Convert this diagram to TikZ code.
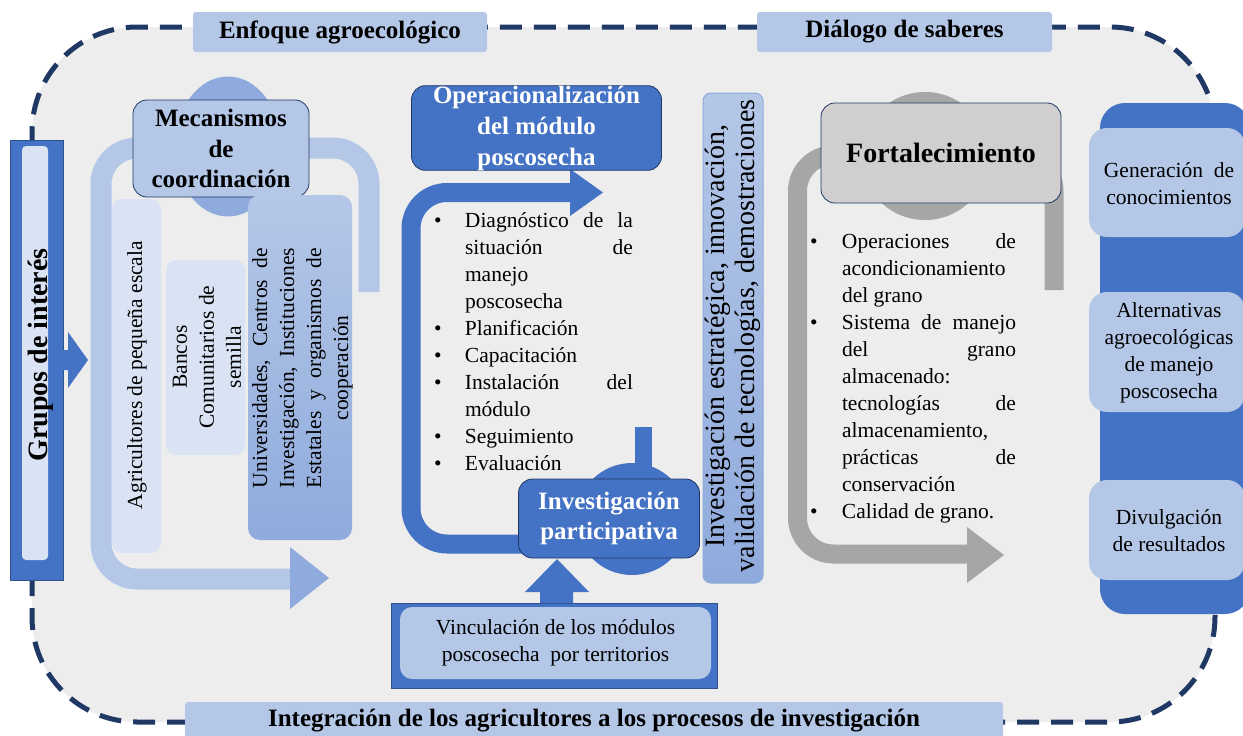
\documentclass[tikz,border=0pt]{standalone}
\usepackage{fontspec}
\setmainfont{Liberation Serif}
\definecolor{bgc}{HTML}{EDEDED}
\definecolor{navy}{HTML}{1F3864}
\definecolor{blu}{HTML}{4472C4}
\definecolor{blud}{HTML}{2F528F}
\definecolor{lb}{HTML}{B4C7E7}
\definecolor{llb}{HTML}{DAE3F3}
\definecolor{mb}{HTML}{8FAADC}
\definecolor{gr}{HTML}{A6A6A6}
\definecolor{lgr}{HTML}{D0CECE}
\newcommand{\fs}[2]{\fontsize{#1}{#2}\selectfont}
\newcommand{\bul}[1]{\makebox[#1][l]{\textbullet}}
\begin{document}
\begin{tikzpicture}[x=1pt,y=-1pt,
  every node/.style={inner sep=0pt,outer sep=0pt},
  plate/.style={rectangle,rounded corners=14pt,draw=navy,line width=0.8pt},
  lightbox/.style={rectangle,rounded corners=10pt,fill=llb},
  tag/.style={rectangle,rounded corners=3pt,fill=lb,font=\fs{25}{30}\bfseries},
  body/.style={font=\fs{21.5}{27}},
  bandline/.style={line width=#1,rounded corners=36pt}]
\useasboundingbox (0,0) rectangle (1243,736);
\fill[white] (0,0) rectangle (1243,736);
% outer dashed frame
\draw[navy,fill=bgc,line width=5pt,dash pattern=on 22pt off 12pt,rounded corners=105pt] (32,27) rectangle (1215,722);

% top and bottom tags
\node[tag,minimum width=294pt,minimum height=40pt] (enf) at (340,32) {Enfoque agroecológico};
\node[tag,minimum width=295pt,minimum height=40pt] (dia) at (904.5,32) {Diálogo de saberes};
\node[tag,minimum width=818pt,minimum height=40pt,anchor=north west] (integ) at (185,702) {};
\node[font=\fs{25}{30}\bfseries] (integt) at (594,721) {Integración de los agricultores a los procesos de investigación};

% Grupos de interes
\node[rectangle,fill=blu,draw=blud,line width=1pt,minimum width=53pt,minimum height=440pt] (gout) at (36.5,360) {};
\node[rectangle,rounded corners=4pt,fill=llb,minimum width=26pt,minimum height=414pt] (gin) at (35,353) {};
\node[rotate=90,font=\fs{28}{30}\bfseries] (gtext) at (41,355) {Grupos de interés};
\fill[blu] (63,350) -- (68,350) -- (68,332) -- (88,360) -- (68,388) -- (68,370) -- (63,370) -- cycle;

% light blue U arrow
\draw[lb,bandline=21pt] (369,292) -- (369,148) -- (101,148) -- (101,579) -- (291,579);
\fill[mb] (290,547) -- (329,578) -- (290,609) -- cycle;
\fill[mb] (228,146.5) ellipse [x radius=53pt,y radius=70pt];
\node[plate,fill=lb,minimum width=176pt,minimum height=97pt,font=\fs{25}{30.5}\bfseries,align=center] (mec) at (221,148.5) {Mecanismos\\de\\coordinación};
\node[lightbox,minimum width=49pt,minimum height=354pt] (agr) at (136.5,376) {};
\node[rotate=90,body] (agrt) at (137,375) {Agricultores de pequeña escala};
\node[lightbox,minimum width=79pt,minimum height=195pt] (ban) at (205.5,357.5) {};
\node[rotate=90,body,align=center] (bant) at (207,357) {Bancos\\Comunitarios de\\semilla};
\node[rectangle,rounded corners=12pt,top color=lb,bottom color=mb,minimum width=104pt,minimum height=345pt] (uni) at (300,367.5) {};
\node[rotate=90,body,align=center] (unit) at (302.5,368) {\makebox[240pt][s]{Universidades, Centros de}\\\makebox[240pt][s]{Investigación, Instituciones}\\\makebox[240pt][s]{Estatales y organismos de}\\cooperación};

% middle blue loop
\draw[blu,bandline=19pt] (530,544) -- (411,544) -- (411,192.5) -- (571,192.5);
\fill[blu] (570,169) -- (603,192.5) -- (570,216) -- cycle;
\node[plate,fill=blu,minimum width=250pt,minimum height=82pt,text=white,font=\fs{25}{31}\bfseries,align=center] (oper) at (536.5,128) {Operacionalización\\del módulo\\poscosecha};
\node[anchor=base west] (lst1) at (434,227) {\parbox[t]{210pt}{\fs{21.5}{27}\raggedright
\bul{31pt}\makebox[168pt][s]{Diagnóstico de la}\\
\hspace*{31pt}\makebox[168pt][s]{situación de}\\
\hspace*{31pt}manejo\\
\hspace*{31pt}poscosecha\\
\bul{31pt}Planificación\\
\bul{31pt}Capacitación\\
\bul{31pt}\makebox[168pt][s]{Instalación del}\\
\hspace*{31pt}módulo\\
\bul{31pt}Seguimiento\\
\bul{31pt}Evaluación}};
\fill[blu] (632,519) circle[radius=56pt];
\fill[blu] (635,427) rectangle (652,470);
\node[plate,fill=blu,minimum width=181pt,minimum height=79pt,text=white,font=\fs{25}{30}\bfseries,align=center] (inv) at (609,518.5) {Investigación\\participativa};

% vinculacion
\node[rectangle,fill=blu,draw=blud,line width=1pt,minimum width=326pt,minimum height=85pt] (vout) at (554,645.5) {};
\node[rectangle,rounded corners=12pt,fill=lb,minimum width=311pt,minimum height=72pt,body,align=center] (vinc) at (555.5,643) {Vinculación de los módulos\\poscosecha\ \ por territorios};
\fill[blu] (540,603) -- (540,592) -- (525,592) -- (557,559) -- (589,592) -- (573,592) -- (573,603) -- cycle;

% vertical research box
\node[rectangle,rounded corners=8pt,draw=mb,line width=1pt,top color=lb,bottom color=mb,minimum width=60pt,minimum height=490pt] (ies) at (733,338) {};
\node[rotate=90,font=\fs{28}{30},align=center] (iest) at (733,336) {Investigación estratégica, innovación,\\validación de tecnologías, demostraciones};

% gray loop
\draw[gr,bandline=19pt] (1054,290) -- (1054,155) -- (797.5,155) -- (797.5,554) -- (968,554);
\fill[gr] (967,527) -- (1004,555) -- (967,583) -- cycle;
\fill[gr] (925,156) circle[radius=64pt];
\node[plate,fill=lgr,minimum width=240pt,minimum height=100pt,font=\fs{28}{30}\bfseries] (fort) at (941,153) {Fortalecimiento};
\node[anchor=base west] (lst2) at (810,248) {\parbox[t]{215pt}{\fs{21.5}{27}\raggedright
\bul{32pt}\makebox[174pt][s]{Operaciones de}\\
\hspace*{32pt}acondicionamiento\\
\hspace*{32pt}del grano\\
\bul{32pt}\makebox[174pt][s]{Sistema de manejo}\\
\hspace*{32pt}\makebox[174pt][s]{del grano}\\
\hspace*{32pt}almacenado:\\
\hspace*{32pt}\makebox[174pt][s]{tecnologías de}\\
\hspace*{32pt}almacenamiento,\\
\hspace*{32pt}\makebox[174pt][s]{prácticas de}\\
\hspace*{32pt}conservación\\
\bul{32pt}Calidad de grano.}};

% right column
\node[rectangle,rounded corners=25pt,fill=blu,anchor=north west,minimum width=150pt,minimum height=511pt] (col) at (1100,103) {};
\node[rectangle,rounded corners=18pt,fill=lb,anchor=north west,minimum width=156pt,minimum height=109pt] (genb) at (1089,128) {};
\node[body,align=center] (gent) at (1169,184) {Generación\ \ de\\conocimientos};
\node[rectangle,rounded corners=18pt,fill=lb,anchor=north west,minimum width=156pt,minimum height=120pt] (altb) at (1089,292) {};
\node[body,align=center] (altt) at (1169,353) {Alternativas\\agroecológicas\\de manejo\\poscosecha};
\node[rectangle,rounded corners=18pt,fill=lb,anchor=north west,minimum width=156pt,minimum height=100pt] (divb) at (1089,480) {};
\node[body,align=center] (divt) at (1169,531) {Divulgación\\de resultados};
\end{tikzpicture}
\end{document}
